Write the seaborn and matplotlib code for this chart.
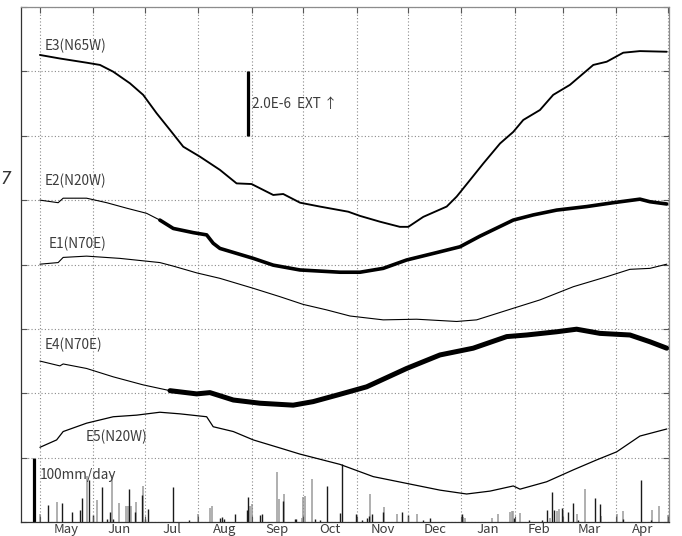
import numpy as np
import pandas as pd
import matplotlib
matplotlib.use("Agg")
import matplotlib.pyplot as plt
import matplotlib.transforms as mtransforms
from matplotlib.ticker import FixedLocator, NullFormatter
import seaborn as sns

# ---------------------------------------------------------------- data
START = pd.Timestamp("1998-05-01")          # first day of the record

# strain records (days since start, strain in 1e-6, plotted with offsets)
e3_day = [0, 11.6, 27.1, 34.9, 42.6, 52.3, 60.0, 67.8, 75.6, 83.3, 93.0, 104.6,
          114.3, 123.0, 135.6, 141.4, 151.2, 162.7, 179.2, 186.0, 197.6, 209.2,
          214.1, 222.8, 236.4, 242.2, 249.9, 257.7, 267.4, 275.1, 280.9, 290.6,
          298.3, 308.0, 321.6, 329.4, 339.0, 348.7, 364.3]
e3_val = [14.51, 14.40, 14.27, 14.20, 13.99, 13.63, 13.27, 12.70, 12.18, 11.66,
          11.35, 10.94, 10.52, 10.50, 10.16, 10.19, 9.92, 9.80, 9.64, 9.51, 9.33,
          9.17, 9.17, 9.48, 9.80, 10.11, 10.62, 11.14, 11.76, 12.12, 12.49, 12.80,
          13.27, 13.58, 14.20, 14.30, 14.58, 14.63, 14.61]

e2_day = [0, 10.6, 13.5, 27.1, 38.8, 50.4, 62.0, 69.7, 77.5, 89.1, 96.9, 100.7,
          104.6, 124.0, 135.6, 151.1, 174.4, 186.0, 199.5, 213.1, 230.6, 244.1,
          255.7, 275.1, 286.7, 300.3, 317.8, 333.2, 348.7, 354.5, 364.3]
e2_val = [10.00, 9.92, 10.06, 10.06, 9.92, 9.75, 9.59, 9.38, 9.12, 8.99, 8.92,
          8.66, 8.50, 8.19, 7.98, 7.83, 7.76, 7.76, 7.88, 8.14, 8.37, 8.55, 8.88,
          9.38, 9.54, 9.69, 9.80, 9.92, 10.03, 9.95, 9.88]

e1_day = [0, 10.6, 13.5, 27.1, 46.5, 69.7, 77.5, 91.1, 104.6, 124.0, 139.5, 153.0,
          166.6, 180.2, 199.5, 218.9, 242.2, 253.8, 275.1, 290.6, 310.0, 329.4,
          342.9, 354.5, 364.3]
e1_val = [8.01, 8.06, 8.22, 8.26, 8.19, 8.06, 7.95, 7.74, 7.57, 7.26, 7.00, 6.76,
          6.59, 6.40, 6.28, 6.30, 6.23, 6.28, 6.64, 6.90, 7.31, 7.62, 7.85, 7.88,
          8.01]

e4_day = [0, 11.6, 13.5, 27.1, 42.6, 60.0, 75.6, 91.1, 98.8, 112.4, 127.9, 147.2,
          158.8, 173.2, 189.9, 213.1, 232.5, 251.8, 271.3, 282.9, 300.3, 311.9,
          325.5, 342.9, 354.5, 364.3]
e4_val = [5.00, 4.85, 4.91, 4.77, 4.51, 4.26, 4.08, 3.98, 4.02, 3.79, 3.69, 3.63,
          3.74, 3.95, 4.20, 4.77, 5.19, 5.40, 5.76, 5.81, 5.91, 5.99, 5.86, 5.81,
          5.60, 5.40]

e5_day = [0, 9.7, 13.5, 27.1, 42.6, 56.2, 69.7, 81.4, 96.9, 100.7, 112.4, 124.0,
          139.5, 151.1, 174.4, 193.7, 213.1, 232.5, 248.0, 261.6, 275.1, 279.0,
          294.5, 310.0, 323.6, 335.2, 348.7, 364.3]
e5_val = [2.32, 2.55, 2.81, 3.07, 3.27, 3.32, 3.41, 3.36, 3.27, 2.96, 2.81, 2.55,
          2.30, 2.11, 1.79, 1.41, 1.20, 0.99, 0.87, 0.96, 1.12, 1.02, 1.25, 1.62,
          1.93, 2.18, 2.67, 2.89]

series_names = ["E3(N65W)", "E2(N20W)", "E1(N70E)", "E4(N70E)", "E5(N20W)"]

# daily rainfall, two gauges (days since start, mm/day)
rain_a_day = [0, 9.7, 27.5, 33.0, 41.7, 45.9, 50.0, 51.0, 52.7, 55.8, 60.0, 92.0,
              98.8, 100.0, 122.1, 123.0, 137.5, 139.1, 141.8, 152.1, 152.7, 154.0,
              157.9, 191.8, 199.9, 207.7, 218.9, 246.0, 247.0, 262.5, 266.4, 273.2,
              274.2, 275.1, 279.0, 296.4, 300.7, 301.5, 303.8, 311.9, 316.8, 325.9,
              335.2, 338.7, 355.9, 359.8, 364.8]
rain_a_mm = [12, 31, 72, 34, 73, 29, 25, 25, 25, 31, 56, 12,
             22, 25, 25, 28, 78, 36, 43, 6, 39, 41,
             67, 43, 23, 12, 12, 8, 6, 6, 12, 16,
             17, 17, 14, 6, 17, 20, 18, 12, 52, 10,
             12, 17, 18, 25, 11]

rain_b_day = [4.8, 13.0, 18.8, 23.2, 24.2, 28.6, 31.0, 35.9, 38.8, 40.7, 42.6,
              51.9, 55.2, 59.1, 61.0, 62.9, 77.5, 86.6, 104.6, 105.8, 107.0, 113.3,
              120.1, 121.1, 127.9, 128.9, 141.1, 148.2, 148.8, 159.8, 162.7, 167.0,
              174.4, 175.4, 183.7, 187.0, 190.0, 191.0, 192.8, 199.2, 210.6, 214.1,
              222.8, 226.7, 245.1, 275.7, 284.4, 292.0, 294.5, 297.4, 298.8, 303.2,
              307.1, 309.6, 312.9, 322.6, 325.5, 339.0, 349.1, 354.9]
rain_b_mm = [26, 29, 15, 19, 37, 66, 11, 55, 5, 16, 4,
             51, 15, 42, 5, 20, 54, 3, 6, 8, 5, 12,
             19, 39, 11, 13, 32, 5, 4, 4, 3, 56,
             14, 90, 12, 3, 6, 9, 12, 16, 16, 11,
             3, 6, 12, 6, 3, 3, 19, 47, 18, 22,
             16, 30, 3, 37, 28, 5, 65, 3]

month_labels = ["May", "Jun", "Jul", "Aug", "Sep", "Oct",
                "Nov", "Dec", "Jan", "Feb", "Mar", "Apr"]

strain_scale = 2.0          # 1e-6 strain per grid step
rain_scale = 100            # mm/day reference bar


def to_dates(days):
    return START + pd.to_timedelta(np.asarray(days, dtype=float), unit="D")


# ---------------------------------------------------------------- style
sns.set_theme(style="white")
plt.rcParams["font.family"] = ["Noto Sans CJK JP", "DejaVu Sans"]
TXT = "#3c3c3c"
GRID = "#8a8a8a"
FS = 9.8

fig = plt.figure(figsize=(6.82, 5.36), dpi=100)
ax = fig.add_axes([21 / 682, 1 - 522 / 536, 648 / 682, 515 / 536])

x0 = START - pd.Timedelta(days=11.0)
x1 = START + pd.Timedelta(days=365.6)

# rainfall on a twin axis (100 mm/day = one grid step)
ax2 = ax.twinx()
ax2.set_ylim(0, 800)
ax2.vlines(to_dates(rain_a_day), 0, rain_a_mm, color="#9a9a9a", lw=1.1)
ax2.vlines(to_dates(rain_b_day), 0, rain_b_mm, color="#1a1a1a", lw=1.0)
ax2.set_yticks([])
for s in ax2.spines.values():
    s.set_visible(False)
ax2.set_zorder(ax.get_zorder() - 1)
ax.patch.set_visible(False)

# strain curves; the noisy later part of E2/E4 is drawn as a broad trace
curves = [
    (e3_day, e3_val, 1.35, None, None),
    (e2_day, e2_val, 0.8, 69.7, 2.6),
    (e1_day, e1_val, 0.8, None, None),
    (e4_day, e4_val, 0.8, 75.6, 3.6),
    (e5_day, e5_val, 0.9, None, None),
]
for days, vals, lw, thick_from, thick_lw in curves:
    d = np.asarray(days, dtype=float)
    v = np.asarray(vals, dtype=float)
    segs = [(np.ones_like(d, dtype=bool), lw)] if thick_from is None else \
        [(d <= thick_from, lw), (d >= thick_from, thick_lw)]
    for m, w in segs:
        sns.lineplot(x=to_dates(d[m]), y=v[m], ax=ax, color="black", lw=w,
                     estimator=None, sort=False, solid_joinstyle="round")

ax.set_xlim(x0, x1)
ax.set_ylim(0, 16)
ax.set_xlabel("")
ax.set_ylabel("")

# month grid: boundaries as major ticks, labels at mid-month
bounds = pd.date_range(START, periods=13, freq="MS")
mids = [b + (n - b) / 2 for b, n in zip(bounds[:-1], bounds[1:])]
ax.xaxis.set_major_locator(FixedLocator(matplotlib.dates.date2num(bounds)))
ax.xaxis.set_major_formatter(NullFormatter())
ax.xaxis.set_minor_locator(FixedLocator(matplotlib.dates.date2num(mids)))
ax.set_xticklabels(month_labels, minor=True)
ax.set_yticks(np.arange(0, 16.1, strain_scale))
ax.set_yticklabels([])

ax.grid(True, which="major", color=GRID, linestyle=(0, (1, 2)), linewidth=0.8)
ax.tick_params(axis="x", which="major", direction="in", length=4, top=True,
               bottom=True, color="#555555", width=0.8)
ax.tick_params(axis="x", which="minor", length=0, pad=0.5, labelsize=9.5,
               labelcolor=TXT)
ax.tick_params(axis="y", which="major", direction="in", length=4, left=True,
               right=True, color="#555555", width=0.8)

for name, s in ax.spines.items():
    s.set_visible(True)
    s.set_linewidth(0.9)
    s.set_color("#333333" if name in ("left", "bottom") else "#8c8c8c")

# curve names
label_pos = [(0.037, 0.924), (0.037, 0.662), (0.043, 0.540),
             (0.037, 0.344), (0.099, 0.165)]
for name, (lx, ly) in zip(series_names, label_pos):
    ax.text(lx, ly, name, transform=ax.transAxes, fontsize=FS, color=TXT,
            ha="left", va="center")

# strain scale bar
blend = mtransforms.blended_transform_factory(ax.transAxes, ax.transData)
ax.vlines(0.351, 14 - strain_scale, 14, transform=blend, color="black", lw=2.3)
ax.text(0.357, 13.0, "2.0E-6  EXT \u2191", transform=blend, fontsize=FS,
        color=TXT, ha="left", va="center")

# rainfall scale bar
blend2 = mtransforms.blended_transform_factory(ax2.transAxes, ax2.transData)
ax2.vlines(0.0208, 0, rain_scale, transform=blend2, color="black", lw=2.3)
ax.text(0.029, 0.091, "100mm/day", transform=ax.transAxes, fontsize=FS,
        color=TXT, ha="left", va="center")

# clipped axis title at the left margin
fig.text(0.0, 1 - 179 / 536, "7", fontsize=12, color="#333333",
         ha="left", va="center", style="italic", family="DejaVu Sans",
         fontweight="light")

fig.savefig("out.png", dpi=100)
